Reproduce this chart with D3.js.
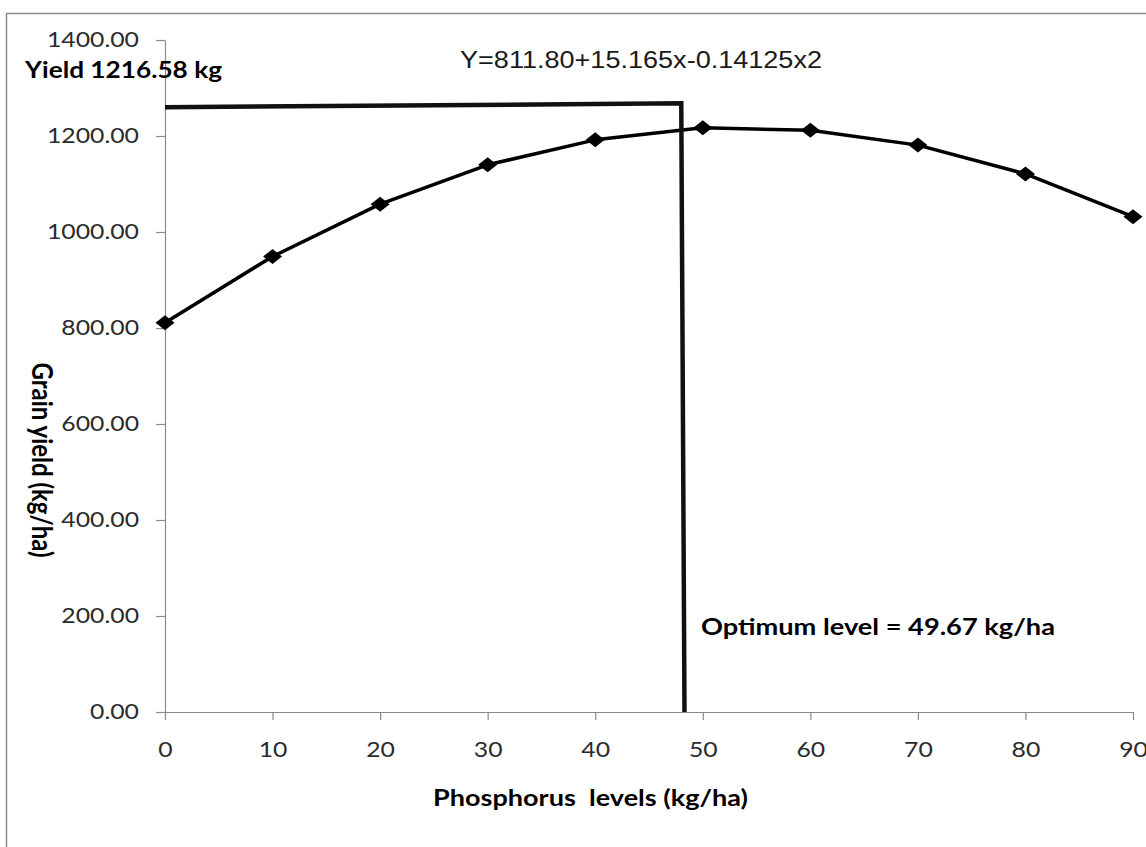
<!DOCTYPE html>
<html>
<head>
<meta charset="utf-8">
<script src="https://cdn.jsdelivr.net/npm/d3@7.9.0/dist/d3.min.js"></script>
<style>
  body { margin: 0; background: #fff; }
  svg { display: block; }
</style>
</head>
<body>
<svg id="chart" width="1146" height="847"></svg>
<script>
// Phosphorus levels (kg/ha) and grain yield
const levels = [0, 10, 20, 30, 40, 50, 60, 70, 80, 90];
const yields = [811, 949, 1058, 1140, 1192, 1217, 1212, 1181, 1121, 1032];

// hand drawn optimum guide: [x, y] in data units
const guideX = [0, 48.0, 48.3];
const guideY = [1260, 1268, 0];

const xTicks = [0, 10, 20, 30, 40, 50, 60, 70, 80, 90];
const yTicks = [0, 200, 400, 600, 800, 1000, 1200, 1400];

const equationText = 'Y=811.80+15.165x-0.14125x2';
const yieldNote = 'Yield 1216.58 kg';
const optimumNote = 'Optimum level = 49.67 kg/ha';
const xTitle = 'Phosphorus  levels (kg/ha)';
const yTitle = 'Grain yield (kg/ha)';

const svg = d3.select('#chart');
const SX = 1.18; // the picture is a bit wider than tall, stretch text to match

// stretch a text horizontally by k (or to a fixed width)
function stretch(sel, k, width) {
  sel.each(function() {
    const len = this.getComputedTextLength();
    d3.select(this)
      .attr('textLength', width ? width : len * k)
      .attr('lengthAdjust', 'spacingAndGlyphs');
  });
}

// outer frame (only left and top edges fall inside the picture)
svg.append('rect')
  .attr('x', 6.5).attr('y', 13.5)
  .attr('width', 1200).attr('height', 900)
  .attr('fill', 'none')
  .attr('stroke', '#8c8c8c')
  .attr('stroke-width', 1.5);

const x = d3.scaleLinear().domain([0, 90]).range([165, 1133]);
const y = d3.scaleLinear().domain([0, 1400]).range([712, 40]);

// axes
const xAxis = svg.append('g')
  .attr('transform', `translate(0,${y(0)})`)
  .call(d3.axisBottom(x).tickValues(xTicks).tickSize(8).tickSizeOuter(0).tickPadding(22));

const yAxis = svg.append('g')
  .attr('transform', `translate(${x(0)},0)`)
  .call(d3.axisLeft(y).tickValues(yTicks).tickSize(9).tickSizeOuter(0).tickPadding(17)
    .tickFormat(d3.format('.2f')));

[xAxis, yAxis].forEach(ax => {
  ax.selectAll('.domain, .tick line').attr('stroke', '#8a8a8a').attr('stroke-width', 1.2);
  ax.selectAll('.tick text')
    .attr('fill', '#2b2b2b')
    .style('font-family', 'Lato, "Open Sans", sans-serif')
    .style('font-size', '21px');
  stretch(ax.selectAll('.tick text'), SX);
});

// data line + diamonds
const line = d3.line()
  .x((d, i) => x(levels[i]))
  .y(d => y(d));

svg.append('path')
  .datum(yields)
  .attr('d', line)
  .attr('fill', 'none')
  .attr('stroke', '#000')
  .attr('stroke-width', 3.5)
  .attr('stroke-linejoin', 'round');

svg.selectAll('.marker')
  .data(yields)
  .join('path')
  .attr('class', 'marker')
  .attr('d', 'M0,-7.5 L9.5,0 L0,7.5 L-9.5,0 Z')
  .attr('transform', (d, i) => `translate(${x(levels[i])},${y(d)})`)
  .attr('fill', '#000');

// optimum guide lines
const guide = d3.line()
  .x((d, i) => x(guideX[i]))
  .y(d => y(d));

svg.append('path')
  .datum(guideY)
  .attr('d', guide)
  .attr('fill', 'none')
  .attr('stroke', '#111')
  .attr('stroke-width', 4.5)
  .attr('stroke-linejoin', 'miter');

// texts
const eq = svg.append('text')
  .attr('x', 460).attr('y', 68)
  .style('font-family', '"Liberation Sans", Arial, sans-serif')
  .style('font-size', '23px')
  .attr('fill', '#1a1a1a')
  .text(equationText);
stretch(eq, SX, 362);

const yn = svg.append('text')
  .attr('x', 25).attr('y', 78)
  .style('font-family', 'Lato, sans-serif')
  .style('font-weight', 700)
  .style('font-size', '22px')
  .text(yieldNote);
stretch(yn, SX, 197);

const on = svg.append('text')
  .attr('x', 701).attr('y', 635)
  .style('font-family', 'Lato, sans-serif')
  .style('font-weight', 700)
  .style('font-size', '23px')
  .text(optimumNote);
stretch(on, SX, 354);

const xt = svg.append('text')
  .attr('x', 433).attr('y', 806)
  .style('font-family', 'Lato, sans-serif')
  .style('font-weight', 700)
  .style('font-size', '22px')
  .style('white-space', 'pre')
  .text(xTitle);
stretch(xt, SX, 315);

svg.append('text')
  .attr('transform', `translate(32,460) rotate(90) scale(1,${SX})`)
  .attr('text-anchor', 'middle')
  .style('font-family', 'Lato, sans-serif')
  .style('font-weight', 700)
  .style('font-size', '24px')
  .text(yTitle);
</script>
</body>
</html>
